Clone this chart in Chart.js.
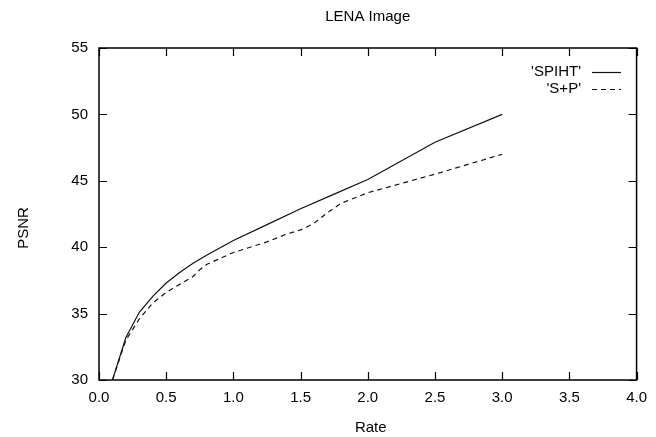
<!DOCTYPE html>
<html>
<head>
<meta charset="utf-8">
<script src="https://cdn.jsdelivr.net/npm/chart.js@4.4.0/dist/chart.umd.min.js"></script>
<style>
html, body { margin: 0; padding: 0; background: #fff; }
</style>
</head>
<body>
<canvas id="chart" width="656" height="437"></canvas>
<script>
// data
var spihtRate = [0.1, 0.2, 0.3, 0.4, 0.5, 0.6, 0.7, 0.8, 1.0, 1.25, 1.5, 1.75, 2.0, 2.5, 3.0];
var spihtPsnr = [30.0, 33.2, 35.1, 36.3, 37.3, 38.1, 38.8, 39.4, 40.5, 41.7, 42.9, 44.0, 45.1, 47.9, 50.0];
var spRate = [0.1, 0.2, 0.3, 0.4, 0.5, 0.6, 0.7, 0.75, 0.8, 1.0, 1.25, 1.4, 1.5, 1.6, 1.7, 1.8, 2.0, 2.5, 3.0];
var spPsnr = [30.0, 33.0, 34.6, 35.8, 36.6, 37.2, 37.8, 38.3, 38.7, 39.6, 40.4, 41.0, 41.3, 41.8, 42.6, 43.3, 44.1, 45.5, 47.0];
var seriesLabels = ["'SPIHT'", "'S+P'"];
var chartTitle = 'LENA Image';
var xLabel = 'Rate';
var yLabel = 'PSNR';

var FONT = '"Liberation Sans", Arial, Helvetica, sans-serif';

function toPoints(xs, ys) {
    var pts = [];
    for (var i = 0; i < xs.length; i++) {
        pts.push({x: xs[i], y: ys[i]});
    }
    return pts;
}

// gnuplot style frame, inward ticks, key, title and axis labels
var gnuplotLook = {
    id: 'gnuplotLook',
    afterDraw: function(chart) {
        var ctx = chart.ctx;
        var a = chart.chartArea;
        var xs = chart.scales.x;
        var ys = chart.scales.y;
        ctx.save();
        ctx.strokeStyle = '#000';
        ctx.lineWidth = 1.5;
        ctx.strokeRect(a.left, a.top, a.right - a.left, a.bottom - a.top);

        ctx.lineWidth = 1.2;
        ctx.beginPath();
        xs.ticks.forEach(function(t) {
            var px = Math.round(xs.getPixelForValue(t.value)) + 0.5;
            ctx.moveTo(px, a.bottom); ctx.lineTo(px, a.bottom - 8);
            ctx.moveTo(px, a.top); ctx.lineTo(px, a.top + 8);
        });
        ys.ticks.forEach(function(t) {
            var py = Math.round(ys.getPixelForValue(t.value)) + 0.5;
            ctx.moveTo(a.left, py); ctx.lineTo(a.left + 8, py);
            ctx.moveTo(a.right, py); ctx.lineTo(a.right - 8, py);
        });
        ctx.stroke();

        // key, top right
        ctx.font = '15px ' + FONT;
        ctx.fillStyle = '#000';
        ctx.textAlign = 'right';
        ctx.textBaseline = 'middle';
        chart.data.datasets.forEach(function(ds, i) {
            var y = 72 + i * 17;
            ctx.fillText(ds.label, 581, y);
            ctx.beginPath();
            ctx.strokeStyle = ds.borderColor;
            ctx.lineWidth = ds.borderWidth;
            ctx.setLineDash(ds.borderDash || []);
            ctx.moveTo(592, y + 0.5);
            ctx.lineTo(621, y + 0.5);
            ctx.stroke();
        });
        ctx.setLineDash([]);

        // title and axis labels
        ctx.textAlign = 'center';
        ctx.fillText(chartTitle, (a.left + a.right) / 2, 17);
        ctx.fillText(xLabel, (a.left + a.right) / 2 + 3, 428);
        ctx.translate(24, 228);
        ctx.rotate(-Math.PI / 2);
        ctx.fillText(yLabel, 0, 0);
        ctx.restore();
    }
};

var ctx = document.getElementById('chart');
new Chart(ctx, {
    type: 'scatter',
    data: {
        datasets: [{
            label: seriesLabels[0],
            data: toPoints(spihtRate, spihtPsnr),
            showLine: true,
            borderColor: '#111',
            borderWidth: 1.2,
            pointRadius: 0,
            tension: 0
        }, {
            label: seriesLabels[1],
            data: toPoints(spRate, spPsnr),
            showLine: true,
            borderColor: '#111',
            borderWidth: 1.2,
            borderDash: [5, 4],
            pointRadius: 0,
            tension: 0
        }]
    },
    options: {
        responsive: false,
        animation: false,
        layout: {padding: {top: 48, right: 18, left: 0, bottom: 0}},
        plugins: {
            legend: {display: false},
            title: {display: false},
            tooltip: {enabled: false}
        },
        scales: {
            x: {
                type: 'linear',
                min: 0,
                max: 4,
                grid: {display: false, drawTicks: false},
                border: {display: false},
                ticks: {
                    stepSize: 0.5,
                    padding: 9,
                    color: '#000',
                    font: {family: FONT, size: 15},
                    maxRotation: 0,
                    callback: function(v) { return v.toFixed(1); }
                },
                afterFit: function(scale) { scale.height = 57; }
            },
            y: {
                type: 'linear',
                min: 30,
                max: 55,
                grid: {display: false, drawTicks: false},
                border: {display: false},
                ticks: {
                    stepSize: 5,
                    padding: 11,
                    color: '#000',
                    font: {family: FONT, size: 15}
                },
                afterFit: function(scale) { scale.width = 99; }
            }
        }
    },
    plugins: [gnuplotLook]
});
</script>
</body>
</html>
